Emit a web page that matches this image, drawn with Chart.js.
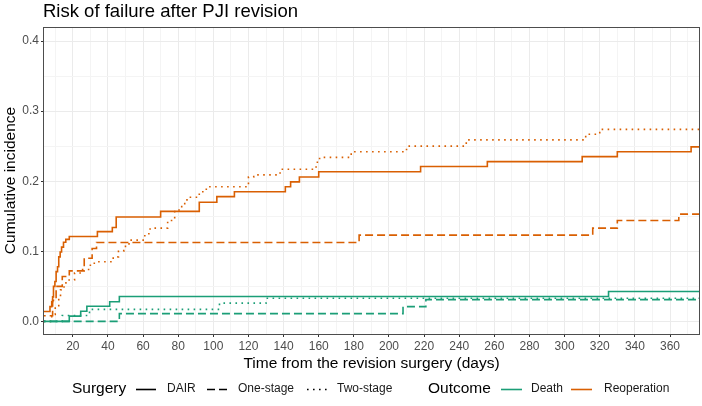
<!DOCTYPE html>
<html><head><meta charset="utf-8">
<script src="https://cdn.jsdelivr.net/npm/chart.js@4/dist/chart.umd.min.js"></script>
<style>html,body{margin:0;padding:0;background:#fff;}#wrap{width:702px;height:406px;position:relative;}</style>
</head><body><div id="wrap"><canvas id="c" width="702" height="406"></canvas></div>
<script>
// ---------- data ----------
const X_MIN = 3.6, X_MAX = 376.5;
const Y_MIN = -0.018, Y_MAX = 0.42;
const xTickValues = [20,40,60,80,100,120,140,160,180,200,220,240,260,280,300,320,340,360];
const yTickValues = [0.0,0.1,0.2,0.3,0.4];
const surgeries = ["DAIR","One-stage","Two-stage"];
const outcomes = ["Death","Reoperation"];

const reopDairT = [0,7,8,8.5,9,9.8,10.5,11.3,12,12.8,13.6,14.7,16,18,34,42.5,44.7,70,92,102,112,141,144,149,160,218,256,310,330,372];
const reopDairV = [0.014,0.021,0.028,0.035,0.05,0.057,0.071,0.078,0.092,0.099,0.106,0.113,0.117,0.121,0.128,0.134,0.149,0.157,0.170,0.178,0.185,0.192,0.199,0.206,0.2135,0.221,0.228,0.235,0.242,0.249];

const reopOneT = [0,8.5,10.5,14,18,26.5,31,33.5,183,316,330,365];
const reopOneV = [0.008,0.03,0.05,0.064,0.072,0.09,0.104,0.1125,0.123,0.133,0.144,0.153];

const reopTwoT = [0,8,10,12,13,15,17,21,25,30,33,43,46,49,52,61,64,74,78,82,85,92,96,120,123,138,158.5,160.5,178.5,210,244,312,320];
const reopTwoV = [0,0.01,0.021,0.035,0.045,0.055,0.059,0.069,0.074,0.083,0.085,0.092,0.1,0.107,0.116,0.125,0.133,0.144,0.159,0.168,0.177,0.185,0.192,0.206,0.209,0.217,0.227,0.234,0.242,0.25,0.259,0.267,0.274];

const deathDairT = [0,18,24.5,28,41,46.5,325];
const deathDairV = [0,0.0075,0.0145,0.0215,0.028,0.0356,0.0427];

const deathOneT = [0,46.5,208,221];
const deathOneV = [0,0.011,0.021,0.031];

const deathTwoT = [0,14,29.5,103.5,130];
const deathTwoV = [0,0.0085,0.0172,0.026,0.033];

// ---------- styling ----------
const outcomeColor = {"Death":"#1B9E77","Reoperation":"#D95F02"};
const surgeryDash = {"DAIR":[],"One-stage":[8,4],"Two-stage":[1.6,4.4]};
const FONT = "'Liberation Sans', Arial, sans-serif";

const series = [
  {outcome:"Death", surgery:"DAIR", t:deathDairT, v:deathDairV},
  {outcome:"Death", surgery:"One-stage", t:deathOneT, v:deathOneV},
  {outcome:"Death", surgery:"Two-stage", t:deathTwoT, v:deathTwoV},
  {outcome:"Reoperation", surgery:"DAIR", t:reopDairT, v:reopDairV},
  {outcome:"Reoperation", surgery:"One-stage", t:reopOneT, v:reopOneV},
  {outcome:"Reoperation", surgery:"Two-stage", t:reopTwoT, v:reopTwoV}
];

const datasets = series.map(s => {
  const pts = s.t.map((t,i)=>({x:t,y:s.v[i]}));
  pts.push({x:X_MAX, y:s.v[s.v.length-1]});
  return {
    label: s.outcome+" / "+s.surgery,
    data: pts,
    stepped: true,
    borderColor: outcomeColor[s.outcome],
    borderWidth: 1.6,
    borderDash: surgeryDash[s.surgery],
    pointRadius: 0,
    fill: false,
    tension: 0
  };
});

const isMajorX = v => xTickValues.includes(v);
const isMajorY = v => yTickValues.some(t => Math.abs(t-v) < 1e-9);

const decor = {
  id:'decor',
  afterDraw(chart){
    const ctx = chart.ctx, a = chart.chartArea;
    ctx.save();
    // panel border
    ctx.strokeStyle = '#4d4d4d'; ctx.lineWidth = 1; ctx.setLineDash([]);
    ctx.strokeRect(Math.round(a.left)-0.5, Math.round(a.top)+0.5, Math.round(a.right-a.left)+1, Math.round(a.bottom-a.top));
    // title
    ctx.fillStyle = '#000';
    ctx.font = '18.5px ' + FONT;
    ctx.textAlign = 'left'; ctx.textBaseline = 'alphabetic';
    ctx.fillText('Risk of failure after PJI revision', 43, 17);
    // axis titles
    ctx.font = '15.5px ' + FONT;
    ctx.textAlign = 'center'; ctx.textBaseline = 'middle';
    ctx.fillText('Time from the revision surgery (days)', (a.left+a.right)/2, 364);
    ctx.save();
    ctx.translate(11, (a.top+a.bottom)/2);
    ctx.rotate(-Math.PI/2);
    ctx.fillText('Cumulative incidence', 0, 0);
    ctx.restore();
    // legend
    const ly = 389;
    ctx.textBaseline = 'middle'; ctx.textAlign = 'left';
    ctx.font = '15.5px ' + FONT; ctx.fillStyle = '#000';
    ctx.fillText('Surgery', 72, ly);
    ctx.fillText('Outcome', 428, ly);
    const surgX = [[136,167],[207,238],[307,337]];
    ctx.font = '12px ' + FONT;
    surgeries.forEach((s,i)=>{
      ctx.strokeStyle = '#000'; ctx.lineWidth = 1.6; ctx.setLineDash(surgeryDash[s]);
      ctx.beginPath(); ctx.moveTo(surgX[i][0], ly+0.5); ctx.lineTo(surgX[i][0]+20, ly+0.5); ctx.stroke();
      ctx.fillStyle = '#1a1a1a'; ctx.fillText(s, surgX[i][1], ly);
    });
    const outX = [[501,531],[571,604]];
    outcomes.forEach((o,i)=>{
      ctx.strokeStyle = outcomeColor[o]; ctx.lineWidth = 1.6; ctx.setLineDash([]);
      ctx.beginPath(); ctx.moveTo(outX[i][0], ly+0.5); ctx.lineTo(outX[i][0]+21, ly+0.5); ctx.stroke();
      ctx.fillStyle = '#1a1a1a'; ctx.fillText(o, outX[i][1], ly);
    });
    ctx.restore();
  }
};

Chart.defaults.font.family = FONT;
new Chart(document.getElementById('c'), {
  type: 'line',
  data: { datasets },
  options: {
    responsive: false,
    animation: false,
    devicePixelRatio: 1,
    layout: { padding: { top: 27, right: 3, left: 0, bottom: 0 } },
    plugins: { legend: { display: false }, title: { display: false }, tooltip: { enabled: false } },
    scales: {
      x: {
        type: 'linear', min: X_MIN, max: X_MAX,
        afterBuildTicks: s => { const t=[]; for (let v=10; v<=370; v+=10) t.push({value:v}); s.ticks = t; },
        afterFit: s => { s.height = 72; },
        border: { display: false },
        grid: {
          color: c => isMajorX(c.tick.value) ? '#EBEBEB' : '#F4F4F4',
          lineWidth: 1,
          drawTicks: true, tickLength: 3,
          tickColor: c => isMajorX(c.tick.value) ? '#333333' : 'rgba(0,0,0,0)'
        },
        ticks: {
          autoSkip: false, maxRotation: 0, padding: 2,
          color: '#4D4D4D', font: { size: 12 },
          callback: v => isMajorX(v) ? String(v) : ''
        }
      },
      y: {
        type: 'linear', min: Y_MIN, max: Y_MAX,
        afterBuildTicks: s => { const t=[]; for (let i=0; i<=8; i++) t.push({value: i*0.05}); s.ticks = t; },
        afterFit: s => { s.width = 44; },
        border: { display: false },
        grid: {
          color: c => isMajorY(c.tick.value) ? '#EBEBEB' : '#F4F4F4',
          lineWidth: 1,
          drawTicks: true, tickLength: 3,
          tickColor: c => isMajorY(c.tick.value) ? '#333333' : 'rgba(0,0,0,0)'
        },
        ticks: {
          autoSkip: false, padding: 2,
          color: '#4D4D4D', font: { size: 12 },
          callback: v => isMajorY(v) ? v.toFixed(1) : ''
        }
      }
    }
  },
  plugins: [decor]
});
</script></body></html>
